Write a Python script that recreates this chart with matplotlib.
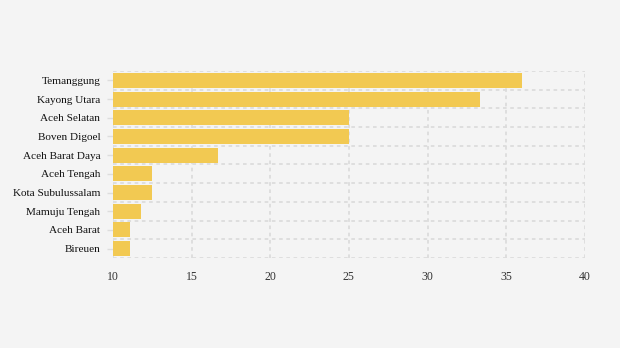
import numpy as np
import matplotlib.pyplot as plt

regions = ['Temanggung', 'Kayong Utara', 'Aceh Selatan', 'Boven Digoel',
           'Aceh Barat Daya', 'Aceh Tengah', 'Kota Subulussalam',
           'Mamuju Tengah', 'Aceh Barat', 'Bireuen']
values = [36.0, 33.3, 25.0, 25.0, 16.7, 12.5, 12.5, 11.8, 11.1, 11.1]
xticks = [10, 15, 20, 25, 30, 35, 40]

plt.rcParams['font.family'] = ['Liberation Serif', 'DejaVu Serif']

fig = plt.figure(figsize=(6.2, 3.48), dpi=100)
fig.patch.set_facecolor('#f4f4f4')
ax = fig.add_axes([0.182, 0.2586, 0.7615, 0.5374])
ax.set_facecolor('#f4f4f4')

y = np.arange(len(regions))
ax.barh(y, np.array(values) - 10, left=10, height=0.8, color='#f2c952', zorder=2)

ax.set_xlim(10, 40)
ax.set_ylim(len(regions) - 0.5, -0.5)
ax.set_xticks(xticks)
ax.set_xticklabels([str(t) for t in xticks], fontsize=8.5, color='#333333')
ax.set_yticks(y)
ax.set_yticklabels(regions, fontsize=8.1, color='#111111', va='center_baseline')
ax.set_yticks(np.arange(-0.5, len(regions)), minor=True)

ax.tick_params(axis='x', length=0, pad=9.5)
ax.tick_params(axis='y', which='major', length=4.5, width=1, color='#dddddd', pad=4.5)
ax.tick_params(axis='y', which='minor', length=0)

ax.grid(True, axis='x', which='major', color='#dcdcdc', linestyle=(0, (2, 2)), linewidth=1.3, zorder=0)
ax.grid(True, axis='y', which='minor', color='#dcdcdc', linestyle=(0, (2, 2)), linewidth=1.3, zorder=0)
ax.grid(False, axis='y', which='major')
for s in ax.spines.values():
    s.set_visible(False)

fig.savefig('out.png', dpi=100, facecolor=fig.get_facecolor())
